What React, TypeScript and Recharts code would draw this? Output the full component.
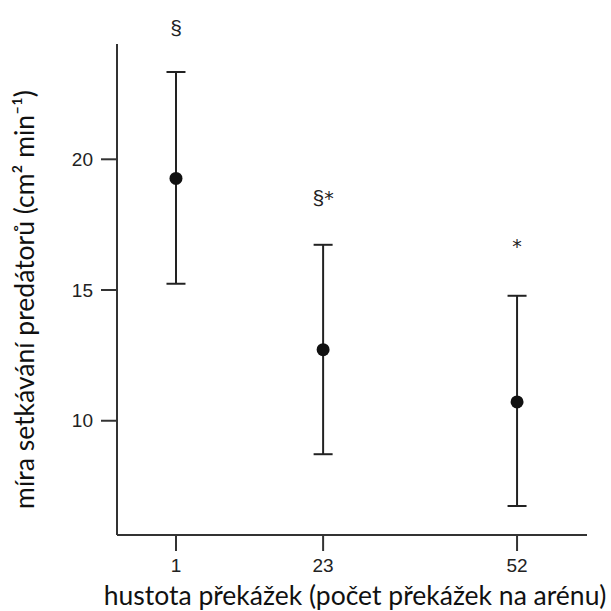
import { ScatterChart, Scatter, XAxis, YAxis, ErrorBar, ReferenceDot } from "recharts";

const densities = [1, 23, 52];
const means = [19.27, 12.72, 10.72];
const errLow = [4.03, 4.0, 3.98];
const errHigh = [4.07, 4.01, 4.06];
const marks = ["§", "§*", "*"];
const markAt = [24.75, 18.25, 16.42];

const xTicks = [1, 23, 52];
const yTicks = [10, 15, 20];

const points = densities.map((d, i) => ({ x: d, y: means[i], err: [errLow[i], errHigh[i]] }));

const tickFont = "'Liberation Sans', Arial, sans-serif";
const labelFont = "Lato, 'Open Sans', sans-serif";
const axisColor = "#333";

function YLabel(props: any) {
  const { x, y, height } = props.viewBox;
  const cx = x + 24;
  const cy = y + height / 2 + 10;
  return (
    <text
      x={cx}
      y={cy}
      transform={`rotate(-90 ${cx} ${cy})`}
      textAnchor="middle"
      dominantBaseline="central"
      fontFamily={labelFont}
      fontSize={26.5}
      fill="#111"
    >
      míra setkávání predátorů (cm² min⁻¹)
    </text>
  );
}

function XLabel(props: any) {
  const { x, y, width } = props.viewBox;
  return (
    <text
      x={x + width / 2 + 3}
      y={y + 70}
      textAnchor="middle"
      fontFamily={labelFont}
      fontSize={26.5}
      fill="#111"
    >
      hustota překážek (počet překážek na arénu)
    </text>
  );
}

// § in the tick font, * a little heavier as in the original
function Mark({ cx, cy, text }: { cx: number; cy: number; text: string }) {
  return (
    <text x={cx} y={cy} textAnchor="middle" fontFamily={tickFont} fontSize={21} fill="#222">
      {text.split("").map((ch, k) =>
        ch === "*" ? (
          <tspan key={k} fontFamily="'DejaVu Sans', sans-serif" fontSize={19}>
            {ch}
          </tspan>
        ) : (
          <tspan key={k}>{ch}</tspan>
        )
      )}
    </text>
  );
}

export default function App() {
  return (
    <div style={{ position: "absolute", left: 0, top: 0, width: 611, height: 611, background: "#fff" }}>
      <ScatterChart width={611} height={611} margin={{ top: 44, right: 24, left: 0, bottom: 0 }}>
        <XAxis
          type="number"
          dataKey="x"
          domain={[-7.82, 62.46]}
          ticks={xTicks}
          height={76}
          stroke={axisColor}
          strokeWidth={2}
          tickSize={16}
          tickMargin={8}
          tick={{ fill: "#222", fontSize: 19, fontFamily: tickFont }}
          label={XLabel}
        />
        <YAxis
          type="number"
          dataKey="y"
          domain={[5.63, 24.41]}
          ticks={yTicks}
          width={117}
          stroke={axisColor}
          strokeWidth={2}
          tickSize={16}
          tickMargin={8}
          tick={{ fill: "#222", fontSize: 19, fontFamily: tickFont }}
          label={YLabel}
        />
        <Scatter
          data={points}
          isAnimationActive={false}
          shape={(p: any) => <circle cx={p.cx} cy={p.cy} r={6.5} fill="#111" />}
        >
          <ErrorBar dataKey="err" direction="y" width={9.5} stroke="#222" strokeWidth={2} />
        </Scatter>
        {densities.map((d, i) => (
          <ReferenceDot
            key={d}
            x={d}
            y={markAt[i]}
            ifOverflow="visible"
            shape={(p: any) => <Mark cx={p.cx} cy={p.cy} text={marks[i]} />}
          />
        ))}
      </ScatterChart>
    </div>
  );
}
